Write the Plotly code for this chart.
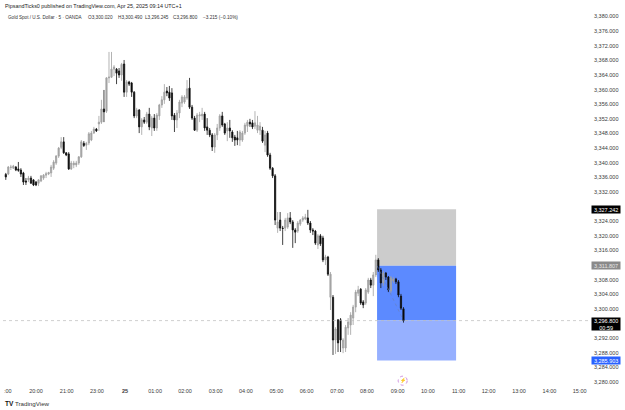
import plotly.graph_objects as go

# Gold Spot / U.S. Dollar, 5-minute bars (OANDA)
opens = [3336.8,3336.9,3338.7,3338.5,3338.8,3338.3,3338.0,3337.2,3335.0,3335.3,3335.8,3335.3,3334.7,3334.4,3335.0,3335.8,3336.6,3336.9,3337.2,3338.5,
3339.9,3341.8,3344.2,3345.7,3342.7,3342.4,3338.3,3339.4,3339.4,3339.9,3341.6,3345.3,3344.8,3345.4,3346.2,3348.1,3349.2,3350.6,3351.1,3354.7,
3354.1,3363.2,3363.4,3365.6,3365.6,3365.1,3364.0,3367.0,3359.3,3362.1,3361.8,3359.3,3352.8,3354.4,3349.8,3351.7,3351.1,3353.3,3349.5,3352.2,
3349.5,3352.8,3355.8,3357.2,3359.6,3359.3,3359.1,3353.0,3351.7,3353.6,3356.3,3356.6,3357.7,3360.4,3355.2,3352.2,3348.9,3352.8,3352.8,3353.3,
3349.8,3348.9,3347.6,3344.3,3347.6,3349.5,3352.8,3350.6,3348.7,3349.5,3348.4,3347.0,3346.8,3346.2,3346.2,3348.1,3350.0,3351.1,3350.9,3350.0,
3348.9,3348.9,3348.9,3344.8,3348.1,3342.1,3338.5,3336.4,3322.1,3324.3,3322.1,3322.1,3322.4,3324.9,3323.8,3321.6,3321.3,3323.2,3324.3,3324.6,
3324.9,3323.5,3321.6,3321.3,3317.5,3320.0,3319.4,3313.4,3314.2,3303.2,3303.2,3291.5,3297.0,3297.0,3289.3,3289.3,3294.8,3295.6,3297.5,3300.5,
3304.3,3305.4,3301.9,3301.6,3304.6,3307.9,3306.5,3309.3,3313.4,3310.65,3307.1,3309.8,3308.7,3304.9,3307.6,3308.2,3307.4,3303.5,3300.02]
highs = [3337.2,3339.1,3339.4,3339.4,3339.1,3340.2,3338.5,3337.5,3335.8,3336.4,3336.4,3335.5,3335.0,3335.5,3336.6,3336.9,3337.5,3337.5,3339.4,3340.7,
3342.1,3344.3,3347.0,3347.0,3342.9,3342.9,3340.5,3340.5,3340.5,3341.8,3346.2,3345.9,3345.7,3348.4,3348.7,3349.8,3349.5,3352.8,3357.2,3359.9,
3363.4,3370.3,3370.3,3366.7,3365.9,3365.9,3367.3,3368.1,3362.6,3362.4,3362.1,3359.6,3355.0,3354.7,3352.2,3352.5,3353.9,3355.0,3352.8,3353.3,
3353.6,3356.1,3358.2,3361.5,3360.7,3361.0,3360.4,3353.6,3354.4,3357.2,3358.5,3358.5,3362.6,3363.2,3355.8,3352.8,3353.6,3353.9,3355.0,3353.9,
3352.2,3349.5,3348.1,3348.1,3350.6,3353.3,3353.9,3350.9,3351.1,3351.7,3348.9,3347.6,3348.7,3348.9,3348.7,3350.9,3351.7,3352.0,3351.7,3354.1,
3352.8,3351.1,3349.8,3348.7,3348.7,3342.7,3338.8,3336.9,3326.5,3326.5,3322.7,3324.9,3326.2,3326.5,3324.3,3322.1,3324.05,3324.6,3325.4,3326.0,
3327.1,3324.05,3322.1,3321.6,3320.5,3320.5,3320.0,3314.8,3314.5,3310.1,3303.8,3295.0,3297.2,3297.5,3292.0,3295.6,3297.5,3299.1,3301.1,3305.2,
3306.3,3305.7,3302.4,3305.7,3308.5,3308.5,3310.1,3314.8,3313.9,3311.2,3310.4,3310.1,3309.0,3309.0,3308.7,3308.5,3307.9,3304.1,3300.49]
lows = [3335.3,3336.6,3338.0,3338.3,3337.7,3337.5,3336.1,3333.9,3333.9,3334.7,3334.2,3333.6,3333.6,3333.6,3334.7,3335.3,3335.8,3336.6,3336.1,3338.0,
3339.4,3341.3,3343.7,3342.4,3341.8,3338.0,3338.0,3338.5,3338.8,3339.4,3341.3,3344.3,3343.5,3344.8,3345.9,3347.9,3348.4,3348.7,3350.6,3351.1,
3353.6,3361.8,3363.2,3363.7,3361.5,3363.2,3362.4,3358.0,3358.0,3361.0,3358.0,3352.2,3352.2,3348.1,3347.6,3350.6,3350.6,3348.9,3347.3,3348.7,
3348.7,3351.7,3355.0,3356.1,3358.2,3356.9,3351.7,3348.4,3349.5,3352.2,3355.2,3356.1,3357.2,3354.7,3351.7,3348.7,3348.4,3351.1,3351.7,3348.7,
3347.6,3347.0,3343.2,3342.7,3346.2,3348.7,3349.8,3347.6,3345.9,3346.8,3345.7,3344.6,3344.8,3344.6,3345.7,3347.6,3348.4,3349.8,3349.2,3349.2,
3348.1,3347.6,3345.4,3342.9,3341.6,3338.0,3335.8,3322.95,3320.8,3321.3,3317.5,3321.3,3321.9,3323.2,3316.7,3318.0,3320.8,3322.7,3323.8,3324.3,
3322.95,3320.8,3320.2,3317.5,3316.4,3317.2,3312.8,3312.0,3309.0,3299.7,3287.4,3287.7,3288.2,3288.2,3287.9,3288.2,3292.9,3292.9,3295.6,3299.1,
3303.5,3301.1,3300.2,3301.1,3304.1,3305.7,3303.5,3308.7,3310.1,3305.7,3306.3,3307.9,3304.6,3304.3,3307.1,3306.8,3303.2,3299.7,3296.245]
closes = [3336.1,3338.8,3338.8,3339.1,3338.0,3337.9,3336.9,3334.7,3334.7,3335.8,3334.4,3333.9,3333.9,3335.3,3336.4,3336.6,3337.0,3337.3,3338.8,3340.2,
3341.8,3344.0,3345.7,3342.7,3342.1,3338.3,3339.9,3339.9,3339.9,3341.6,3345.7,3344.7,3345.3,3347.9,3348.1,3349.2,3348.7,3351.1,3354.7,3353.9,
3363.2,3363.4,3365.6,3366.2,3364.5,3364.0,3366.9,3359.3,3362.1,3361.5,3359.3,3352.8,3354.4,3349.8,3351.7,3351.1,3353.3,3349.8,3352.2,3349.5,
3353.05,3355.8,3357.2,3359.3,3359.1,3357.7,3352.8,3351.7,3353.6,3356.6,3358.0,3358.0,3360.2,3355.2,3352.2,3348.9,3353.05,3353.1,3353.3,3349.5,
3348.9,3347.6,3344.3,3347.6,3349.5,3352.8,3350.3,3348.1,3349.5,3348.7,3346.8,3346.2,3346.2,3348.4,3348.1,3350.3,3351.1,3350.6,3349.8,3350.9,
3350.3,3350.0,3345.9,3347.6,3342.1,3338.5,3336.4,3324.3,3323.8,3322.1,3322.0,3324.3,3324.9,3323.8,3321.6,3321.0,3323.5,3324.3,3324.9,3325.1,
3323.5,3321.6,3321.3,3318.0,3320.0,3317.8,3313.4,3314.2,3309.5,3309.5,3291.5,3294.5,3290.7,3291.5,3291.5,3295.0,3296.4,3298.3,3300.5,3304.6,
3305.2,3301.6,3301.1,3305.2,3307.9,3306.5,3309.3,3313.4,3310.65,3307.1,3309.8,3308.7,3305.2,3308.5,3308.2,3307.4,3303.8,3300.2,3296.8]

# Session tick labels along the time axis (bar index, text)
time_ticks = [12, 24.2, 36.2, 47.4, 59.3, 71.2, 83.4, 95.4, 107.5, 119.5, 131.6, 143.5, 155.7, 167.7, 179.9, 191.8, 203.9, 216, 228]
time_labels = ["20:00", "21:00", "23:00", "<b>25</b>", "01:00", "02:00", "03:00", "04:00", "05:00", "06:00",
               "07:00", "08:00", "09:00", "10:00", "11:00", "12:00", "13:00", "14:00", "15:00"]

# Price scale labels; the levels under the price tags are left out
price_ticks = [3380, 3376, 3372, 3368, 3364, 3360, 3356, 3352, 3348, 3344, 3340, 3336, 3332,
               3324, 3320, 3316, 3308, 3304, 3300, 3292, 3288, 3284, 3280]

# Symbol line in the pane header
symbol_name = "Gold Spot / U.S. Dollar · 5 · OANDA"
ohlc_labels = ["O3,300.020", "H3,300.490", "L3,296.245", "C3,296.800", "−3.215 (−0.10%)"]
ohlc_label_x = [87, 116.5, 144, 172, 202]

# Position tool levels
stop_level = 3327.242
entry_level = 3311.807
target_level = 3285.903
last_price = 3296.8
countdown = "00:59"
tool_start = 147.5
tool_end = 178.9

W, H = 625, 410
FONT = "Liberation Sans, Arial, sans-serif"
TEXT = "#3a3a3a"


def px(x):
    return x / W


def py(y):
    return 1 - y / H


fig = go.Figure(go.Candlestick(
    x=list(range(len(closes))),
    open=opens, high=highs, low=lows, close=closes,
    increasing=dict(line=dict(color="#a0a0a0", width=0.8), fillcolor="#a8a8a8"),
    decreasing=dict(line=dict(color="#111111", width=0.8), fillcolor="#000000"),
    whiskerwidth=0,
    hoverinfo="skip",
    showlegend=False,
))

shapes = [
    dict(type="rect", xref="x", yref="y", x0=tool_start, x1=tool_end, y0=entry_level, y1=stop_level,
         fillcolor="#cccccc", line_width=0, layer="below"),
    dict(type="rect", xref="x", yref="y", x0=tool_start, x1=tool_end, y0=last_price, y1=entry_level,
         fillcolor="#5c8aff", line_width=0, layer="below"),
    dict(type="rect", xref="x", yref="y", x0=tool_start, x1=tool_end, y0=target_level, y1=last_price,
         fillcolor="#96b0ff", line_width=0, layer="below"),
    dict(type="line", xref="x", yref="y", x0=tool_start, x1=len(closes) - 1, y0=entry_level, y1=last_price,
         line=dict(color="#6a7fb5", width=0.6, dash="dot")),
    dict(type="line", xref="paper", yref="y", x0=px(3), x1=px(590), y0=last_price, y1=last_price,
         line=dict(color="#bbbbbb", width=0.7, dash="dot")),
    dict(type="circle", xref="paper", yref="paper", x0=px(398.2), x1=px(407.2), y0=py(385.2), y1=py(376.2),
         line=dict(color="#c77fd8", width=0.9, dash="dot")),
]


def note(x, y, text, size=5.5, color=TEXT, anchor="left", **kw):
    return dict(xref="paper", yref="paper", x=px(x), y=py(y), text=text, showarrow=False,
                xanchor=anchor, yanchor="middle", font=dict(family=FONT, size=size, color=color),
                borderpad=0, **kw)


def price_tag(value, bg, extra=None, color="#ffffff", height=7.4):
    text = f"{value:,.3f}" + (f"<br>{extra}" if extra else "")
    return dict(xref="paper", yref="y", x=px(590.7), y=value, text=text, showarrow=False,
                xanchor="left", yanchor="top" if extra else "middle",
                yshift=4 if extra else 0,
                width=28.3, height=height, align="center", valign="middle", bgcolor=bg,
                font=dict(family=FONT, size=5.5, color=color), borderpad=0)


annotations = [
    note(4, 6, "PipsandTicks0 published on TradingView.com, Apr 25, 2025 09:14 UTC+1", size=5.4, color="#222222"),
    note(7, 17, symbol_name, size=4.6, color="#333333"),
    note(12.7, 391, ":00", anchor="right"),
    note(402.7, 380.7, "⚡", size=5, color="#c77fd8", anchor="center"),
    note(3.6, 403, "<b>TV</b>", size=6.5, color="#111111"),
    note(13.5, 403, "TradingView", size=6.2, color="#333333"),
    price_tag(stop_level, "#000000"),
    price_tag(entry_level, "#8a8a8a", color="#e6e6e6"),
    price_tag(target_level, "#2962ff"),
    price_tag(last_price, "#000000", extra=countdown, height=12.3),
]
annotations += [note(x, 17, label, size=4.7, color="#333333") for x, label in zip(ohlc_label_x, ohlc_labels)]

fig.update_layout(
    width=W, height=H,
    margin=dict(l=0, r=0, t=0, b=0),
    paper_bgcolor="#ffffff", plot_bgcolor="#ffffff",
    font=dict(family=FONT, size=5.5, color=TEXT),
    xaxis=dict(
        domain=[px(3), px(590)], range=[-1.11, 232.1],
        rangeslider=dict(visible=False),
        tickmode="array", tickvals=time_ticks, ticktext=time_labels,
        ticks="", showgrid=False, zeroline=False, showline=False,
        tickfont=dict(family=FONT, size=5.5, color=TEXT), ticklabelstandoff=1,
    ),
    yaxis=dict(
        domain=[py(385), py(12)], range=[3279.18, 3381.23],
        side="right", tickmode="array", tickvals=price_ticks, tickformat=",.3f",
        ticks="", showgrid=False, zeroline=False, showline=False,
        tickfont=dict(family=FONT, size=5.5, color=TEXT), ticklabelstandoff=3,
    ),
    shapes=shapes,
    annotations=annotations,
)

fig.write_html("out.html", config=dict(displayModeBar=False))
